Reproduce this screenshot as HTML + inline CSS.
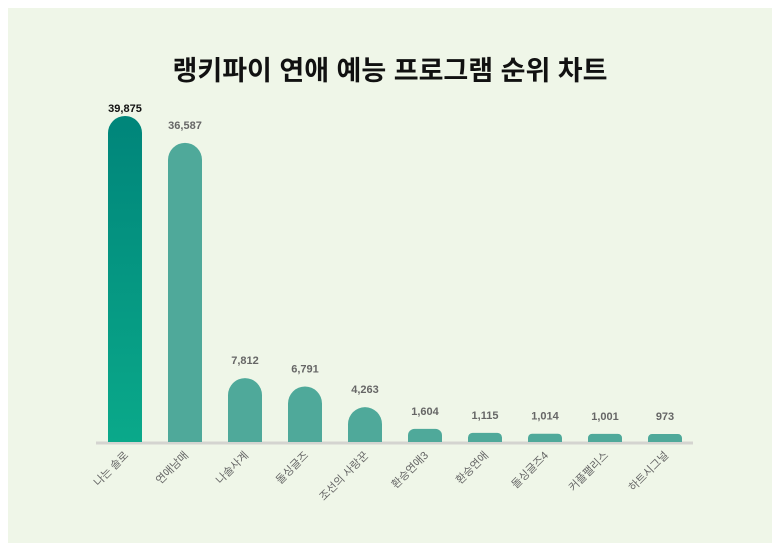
<!DOCTYPE html>
<html><head><meta charset="utf-8"><style>
body{margin:0;background:#fff;width:780px;height:551px;overflow:hidden;font-family:"Liberation Sans","Noto Sans CJK KR",sans-serif}
#panel{position:absolute;left:8px;top:8px;width:764px;height:535px;background:#eff6e8}
</style></head><body>
<div id="panel"></div>
<svg id="c" width="780" height="551" style="position:absolute;left:0;top:0">
<defs><linearGradient id="g1" x1="0" y1="0" x2="0" y2="1"><stop offset="0" stop-color="#00857a"/><stop offset="1" stop-color="#0aa98a"/></linearGradient></defs>
<text x="390" y="80" text-anchor="middle" font-size="27" font-weight="bold" fill="#111" font-family="Liberation Sans, Noto Sans CJK KR, sans-serif">랭키파이 연애 예능 프로그램 순위 차트</text>
<line x1="96" y1="443" x2="693" y2="443" stroke="#d4d4d0" stroke-width="3"/>
</svg>
<script>
const categories=["나는 솔로","연애남매","나솔사계","돌싱글즈","조선의 사랑꾼","환승연애3","환승연애","돌싱글즈4","커플팰리스","하트시그널"];
const values=[39875,36587,7812,6791,4263,1604,1115,1014,1001,973];
const labels=["39,875","36,587","7,812","6,791","4,263","1,604","1,115","1,014","1,001","973"];
const svg=document.getElementById('c');const NS='http://www.w3.org/2000/svg';
const base=442,scale=326/39875,w=34;
function xc(i){return 125+i*60;}
function y(v){return base-v*scale;}
values.forEach((v,i)=>{
 const h=base-y(v),x=xc(i)-w/2,r=Math.min(w/2,h/2);
 const p=document.createElementNS(NS,'path');
 p.setAttribute('d',`M${x},${base}V${base-h+r}A${r},${r} 0 0 1 ${x+r},${base-h}H${x+w-r}A${r},${r} 0 0 1 ${x+w},${base-h+r}V${base}Z`);
 p.setAttribute('fill',i==0?'url(#g1)':'#4fa99a');
 
 
 svg.appendChild(p);
 const t=document.createElementNS(NS,'text');
 t.setAttribute('x',xc(i));t.setAttribute('y',i==0?y(v)-4:y(v)-14);
 t.setAttribute('text-anchor','middle');t.setAttribute('font-size','11');t.setAttribute('font-weight','bold');
 t.setAttribute('fill',i==0?'#111':'#666');t.textContent=labels[i];
 
 
 svg.appendChild(t);
 const c=document.createElementNS(NS,'text');
 c.setAttribute('x',xc(i)+4);c.setAttribute('y',456);c.setAttribute('text-anchor','end');
 c.setAttribute('font-size','11');c.setAttribute('fill','#666');
 c.setAttribute('transform',`rotate(-45 ${xc(i)+4} 456)`);c.textContent=categories[i];
 
 
 svg.appendChild(c);
});
</script>
</body></html>
